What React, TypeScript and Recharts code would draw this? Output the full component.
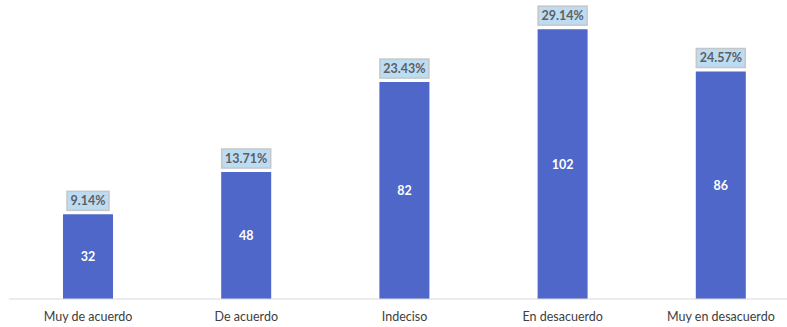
import { BarChart, Bar, XAxis, YAxis, LabelList } from 'recharts';

const categories = ['Muy de acuerdo', 'De acuerdo', 'Indeciso', 'En desacuerdo', 'Muy en desacuerdo'];
const counts = [32, 48, 82, 102, 86];
const percents = ['9.14%', '13.71%', '23.43%', '29.14%', '24.57%'];

const data = categories.map((name, i) => ({ name, count: counts[i], pct: percents[i] }));

const FONT = 'Lato, "Open Sans", sans-serif';

// percentage tag sitting just above each bar
function PctTag(props: any) {
  const { x, y, width, value } = props;
  const text = String(value);
  const w = text.length * 7 + 7;
  const h = 19;
  const cx = x + width / 2;
  const top = y - 4 - h;
  return (
    <g>
      <rect x={cx - w / 2} y={top} width={w} height={h} fill="#bcdcf4" stroke="#c6c6c6" strokeWidth={1.5} />
      <text x={cx} y={top + h / 2 + 4.5} textAnchor="middle" fontFamily={FONT} fontSize={12.5} fontWeight={700} fill="#5f5f5f">
        {text}
      </text>
    </g>
  );
}

export default function App() {
  return (
    <div style={{ position: 'absolute', left: 0, top: 0, width: 787, height: 327, overflow: 'hidden', background: '#fff' }}>
      <BarChart width={800} height={327} data={data} margin={{ top: 8, right: 0, bottom: 0, left: 9 }} barSize={50}>
        <XAxis
          dataKey="name"
          height={28}
          tickLine={false}
          tickMargin={7}
          axisLine={{ stroke: '#d9d9d9' }}
          tick={{ fill: '#404040', fontSize: 12.5, fontFamily: FONT }}
          interval={0}
        />
        <YAxis hide domain={[0, 110]} />
        <Bar dataKey="count" fill="#4e67c8" isAnimationActive={false}>
          <LabelList dataKey="pct" content={<PctTag />} />
          <LabelList
            dataKey="count"
            position="center"
            fill="#ffffff"
            fontSize={12.5}
            fontWeight={700}
            fontFamily={FONT}
          />
        </Bar>
      </BarChart>
    </div>
  );
}
